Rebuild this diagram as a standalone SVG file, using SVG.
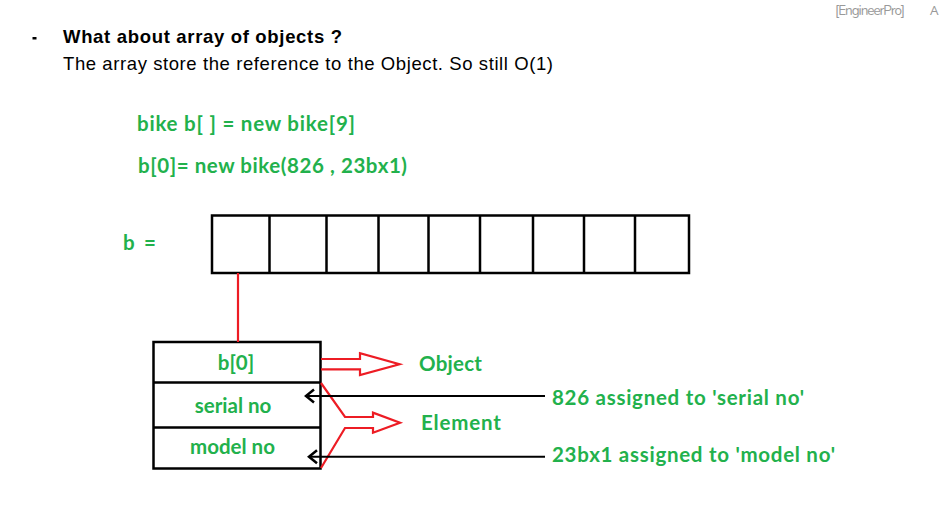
<svg xmlns="http://www.w3.org/2000/svg" width="939" height="523" viewBox="0 0 939 523">
<style>
.hdr{font-family:"Liberation Sans",Arial,sans-serif;fill:#000;font-size:18.5px}
.g{font-family:Lato,"Open Sans",sans-serif;font-weight:bold;fill:#22b14c;font-size:20.5px}
.blk{fill:none;stroke:#000;stroke-width:2.5}
.red{fill:none;stroke:#ed1c24;stroke-width:2.2}
.ln{fill:none;stroke:#000;stroke-width:2}
</style>
<defs>
<marker id="chev" markerWidth="14" markerHeight="16" refX="10" refY="8" orient="auto" markerUnits="userSpaceOnUse">
<path d="M2,1.5 L10,8 L2,14.5" fill="none" stroke="#000" stroke-width="2.5"/>
</marker>
</defs>
<rect width="939" height="523" fill="#fff"/>
<text x="835" y="15" font-family="'Nunito','Open Sans',sans-serif" font-size="13.5" fill="#999" textLength="70">[EngineerPro]</text>
<text x="930" y="15" font-family="'Open Sans',sans-serif" font-size="13.5" fill="#999">A</text>
<g id="header">
<rect x="32.5" y="37" width="4" height="2.5" fill="#000"/>
<text class="hdr" x="63" y="43" font-weight="bold" textLength="279">What about array of objects ?</text>
<text class="hdr" x="63" y="70" textLength="490">The array store the reference to the Object. So still O(1)</text>
</g>
<g id="code">
<text class="g" x="137" y="131" textLength="218">bike b[ ] = new bike[9]</text>
<text class="g" x="138" y="173" textLength="269">b[0]= new bike(826 , 23bx1)</text>
</g>
<g id="array">
<text class="g" x="123" y="250" textLength="33">b =</text>
<rect class="blk" x="212" y="215.5" width="477" height="57.5"/>
<path class="blk" d="M269.5,215.5V273 M326.5,215.5V273 M378.5,215.5V273 M428.5,215.5V273 M480,215.5V273 M533,215.5V273 M584,215.5V273 M635,215.5V273"/>
</g>
<g id="object">
<rect class="blk" x="153.5" y="342" width="167" height="126.5"/>
<path class="blk" d="M153.5,382.5H320.5 M153.5,427.5H320.5"/>
<text class="g" x="236" y="369.5" text-anchor="middle">b[0]</text>
<text class="g" x="233" y="413" text-anchor="middle">serial no</text>
<text class="g" x="232.5" y="453.5" text-anchor="middle">model no</text>
</g>
<g id="labels">
<text class="g" x="419" y="371" textLength="63">Object</text>
<text class="g" x="421" y="430" textLength="80">Element</text>
<text class="g" x="552" y="405" textLength="252">826 assigned to 'serial no'</text>
<text class="g" x="552" y="462" textLength="283">23bx1 assigned to 'model no'</text>
</g>
<g id="connectors">
<path class="red" d="M238,273V342"/>
<path class="red" d="M321,359H360V353.3L399.5,364.3L360,375V369.3H321"/>
<path class="red" d="M321,383L345,417H373V412.7L400,422.7L373,432.7V428H345L321,468"/>
<path class="ln" d="M545,396H306" marker-end="url(#chev)"/>
<path class="ln" d="M545,456.7H309" marker-end="url(#chev)"/>
</g>
</svg>
